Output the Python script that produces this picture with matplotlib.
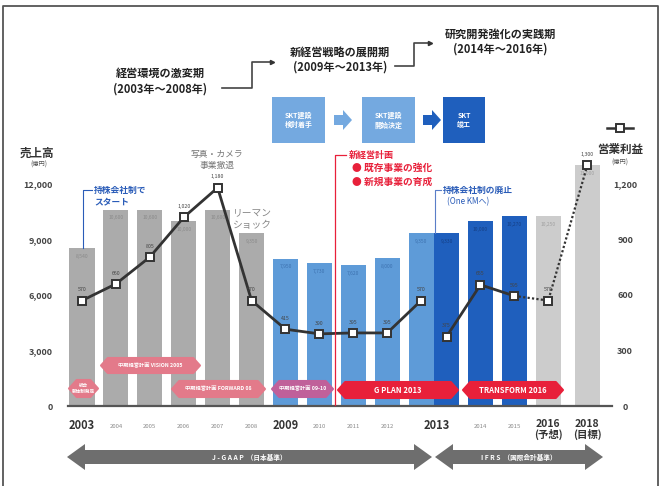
import matplotlib
matplotlib.use("Agg")
import matplotlib.pyplot as plt
from matplotlib.patches import Polygon, Rectangle
from matplotlib.lines import Line2D

plt.rcParams['font.family'] = ['Noto Sans CJK JP', 'DejaVu Sans']

# ---------------- data ----------------
years = ["2003", "2004", "2005", "2006", "2007", "2008", "2009", "2010",
         "2011", "2012", "2013", "2013", "2014", "2015", "2016", "2018"]
year_notes = ["", "", "", "", "", "", "", "", "", "", "", "", "", "", "(予想)", "(目標)"]
sales = [8540, 10600, 10600, 10000, 10600, 9350, 7950, 7730,
         7620, 8000, 9350, 9330, 10000, 10270, 10250, 13000]        # 売上高 (億円)
op = [570, 660, 805, 1020, 1180, 570, 415, 390,
      395, 395, 570, 375, 655, 595, 570, 1300]                      # 営業利益 (億円)
period = ["past"] * 6 + ["jgaap"] * 5 + ["ifrs"] * 3 + ["plan"] * 2
bold_years = ["2003", "2009", "2013", "2016", "2018"]
sales_ticks = [0, 3000, 6000, 9000, 12000]
op_ticks = [0, 300, 600, 900, 1200]

# ---------------- layout / style ----------------
W, H = 662, 486
xpos = list(range(11)) + [10.75, 11.75, 12.75, 13.75, 14.9]
period_color = {"past": "#ababab", "jgaap": "#5e9bd8", "ifrs": "#1f5fbd", "plan": "#cccccc"}
label_color = {"past": "#8a8a8a", "jgaap": "#3d72b0", "ifrs": "#153f85", "plan": "#a0a0a0"}
RED = "#e8203a"
BLUE = "#2a5cb8"
DARK = "#333333"

fig = plt.figure(figsize=(W / 100, H / 100), dpi=100)
fig.patch.set_facecolor("white")

ax_l, ax_r, ax_b, ax_t = 68, 612, 406, 140
ax = fig.add_axes([ax_l / W, (H - ax_b) / H, (ax_r - ax_l) / W, (ax_b - ax_t) / H])
px_per_k = 18.5
ymax = (ax_b - ax_t) / px_per_k * 1000
ax.set_xlim(-0.413, 15.63)
ax.set_ylim(0, ymax)
for s in ["top", "left", "right"]:
    ax.spines[s].set_visible(False)
ax.spines["bottom"].set_color("#555555")
ax.spines["bottom"].set_linewidth(1.6)
ax.set_xticks([])
ax.set_yticks(sales_ticks)
ax.set_yticklabels([f"{v:,}" for v in sales_ticks], fontsize=6.5, fontweight="bold", color="#444444")
ax.tick_params(axis="y", length=0, pad=11)
ax.patch.set_visible(False)

colors = [period_color[p] for p in period]
ax.bar(xpos, sales, width=0.74, color=colors, zorder=2)
for x, v, p in zip(xpos, sales, period):
    ax.annotate(f"{v:,}", (x, v), xytext=(0, -4), textcoords="offset points",
                ha="center", va="top", fontsize=3.6, color=label_color[p], zorder=3)

# x labels
for i, (x, y, note) in enumerate(zip(xpos, years, year_notes)):
    if i == 10:
        continue
    if i == 11:
        x = 10.45
    if y in bold_years:
        txt = y if not note else f"{y}\n{note}"
        ax.annotate(txt, (x, 0), xytext=(0, -9), textcoords="offset points", ha="center",
                    va="top", fontsize=8 if not note else 7.5, fontweight="bold",
                    color="#333333", linespacing=1.0, annotation_clip=False)
    else:
        ax.annotate(y, (x, 0), xytext=(0, -13), textcoords="offset points", ha="center",
                    va="top", fontsize=4.3, color="#8a8a8a", annotation_clip=False)

# operating profit line on twin axis
ax2 = ax.twinx()
ax2.set_ylim(0, ymax / 10)
ax2.set_xlim(ax.get_xlim())
for s in ["top", "left", "right", "bottom"]:
    ax2.spines[s].set_visible(False)
ax2.set_yticks(op_ticks)
ax2.set_yticklabels([f"{v:,}" for v in op_ticks], fontsize=6.5, fontweight="bold", color="#444444")
ax2.tick_params(axis="y", length=0, pad=9.5)
for lab in ax2.get_yticklabels():
    lab.set_horizontalalignment("center")

ax2.plot(xpos[0:11], op[0:11], color=DARK, lw=2.0, zorder=4)
ax2.plot(xpos[11:14], op[11:14], color=DARK, lw=2.0, zorder=4)
ax2.plot(xpos[13:16], op[13:16], color=DARK, lw=1.6, ls=(0, (1, 1)), zorder=4)
ax2.plot(xpos, op, ls="none", marker="s", ms=6.2, mfc="white", mec=DARK, mew=1.4, zorder=5)
for x, v in zip(xpos, op):
    ax2.annotate(f"{v:,}", (x, v), xytext=(0, 6), textcoords="offset points",
                 ha="center", va="bottom", fontsize=3.8, color="#444444", zorder=6)

# ---------------- overlay (pixel coordinates) ----------------
ov = fig.add_axes([0, 0, 1, 1])
ov.set_xlim(0, W)
ov.set_ylim(H, 0)
ov.axis("off")

# frame
ov.plot([3, 3, 658, 658], [490, 6, 6, 490], color="#555555", lw=1.3)

# axis titles
ov.text(37, 153, "売上高", ha="center", va="center", fontsize=8.3, fontweight="bold", color="#333")
ov.text(39, 165, "(億円)", ha="center", va="center", fontsize=4.5, color="#555")
ov.text(620, 149, "営業利益", ha="center", va="center", fontsize=8.3, fontweight="bold", color="#333")
ov.text(620, 163, "(億円)", ha="center", va="center", fontsize=4.5, color="#555")
ov.add_line(Line2D([607, 633], [128, 128], color=DARK, lw=1.8))
ov.plot([620], [128], marker="s", ms=6.2, mfc="white", mec=DARK, mew=1.4)

# period headings
HF = 8
ov.text(160, 73, "経営環境の激変期", ha="center", va="center", fontsize=HF, fontweight="bold", color="#222")
ov.text(160, 89, "(2003年〜2008年)", ha="center", va="center", fontsize=HF, fontweight="bold", color="#222")
ov.text(340, 52, "新経営戦略の展開期", ha="center", va="center", fontsize=HF, fontweight="bold", color="#222")
ov.text(340, 67, "(2009年〜2013年)", ha="center", va="center", fontsize=HF, fontweight="bold", color="#222")
ov.text(500, 34, "研究開発強化の実践期", ha="center", va="center", fontsize=HF, fontweight="bold", color="#222")
ov.text(500, 49, "(2014年〜2016年)", ha="center", va="center", fontsize=HF, fontweight="bold", color="#222")
ov.plot([222, 252, 252, 270], [88, 88, 62, 62], color="#444", lw=1.2)
ov.plot([272], [62], marker=">", ms=3, color="#333")
ov.plot([395, 414, 414, 428], [66, 66, 43, 43], color="#444", lw=1.2)
ov.plot([430], [43], marker=">", ms=3, color="#333")

# SKT boxes
boxes = [(272, 325, "#74a9e0", "SKT建設\n検討着手"), (362, 415, "#74a9e0", "SKT建設\n開始決定"),
         (443, 485, "#1f5fbd", "SKT\n竣工")]
for x0, x1, c, t in boxes:
    ov.add_patch(Rectangle((x0, 97), x1 - x0, 46, color=c, lw=0))
    ov.text((x0 + x1) / 2, 120, t, ha="center", va="center", fontsize=5, color="white",
            fontweight="bold", linespacing=1.4)
for x0, c in [(334, "#74a9e0"), (423, "#1f5fbd")]:
    ov.add_patch(Polygon([(x0, 115), (x0 + 9, 115), (x0 + 9, 110), (x0 + 18, 120),
                          (x0 + 9, 130), (x0 + 9, 125), (x0, 125)], closed=True, color=c, lw=0))

# annotations
ov.text(217, 154, "写真・カメラ", ha="center", va="center", fontsize=6.3, color="#777")
ov.text(217, 165, "事業撤退", ha="center", va="center", fontsize=6.3, color="#777")
ov.text(233, 212, "リーマン", ha="left", va="center", fontsize=7, color="#888")
ov.text(233, 225, "ショック", ha="left", va="center", fontsize=7, color="#888")

ov.plot([92, 83, 83], [190, 190, 248], color=BLUE, lw=0.8)
ov.text(94, 190, "持株会社制で", ha="left", va="center", fontsize=6.3, fontweight="bold", color=BLUE)
ov.text(94, 202, "スタート", ha="left", va="center", fontsize=6.3, fontweight="bold", color=BLUE)

ov.plot([346, 335, 335], [155, 155, 405], color=RED, lw=0.9)
ov.text(349, 155, "新経営計画", ha="left", va="center", fontsize=6.5, fontweight="bold", color=RED)
ov.text(352, 168, "● 既存事業の強化", ha="left", va="center", fontsize=7, fontweight="bold", color=RED)
ov.text(352, 182, "● 新規事業の育成", ha="left", va="center", fontsize=7, fontweight="bold", color=RED)

ov.plot([441, 435, 435], [190, 190, 233], color="#5a7ec8", lw=0.8)
ov.text(443, 190, "持株会社制の廃止", ha="left", va="center", fontsize=6.3, fontweight="bold", color=BLUE)
ov.text(447, 202, "(One KMへ)", ha="left", va="center", fontsize=5.8, color=BLUE)


def pill(x0, x1, y0, y1, color, text, fs=4.5, alpha=1.0):
    d = (y1 - y0) * 0.45
    yc = (y0 + y1) / 2
    ov.add_patch(Polygon([(x0, yc), (x0 + d, y0), (x1 - d, y0), (x1, yc), (x1 - d, y1), (x0 + d, y1)],
                         closed=True, facecolor=color, edgecolor=color, lw=1.5,
                         joinstyle="round", alpha=alpha, zorder=6))
    ov.text((x0 + x1) / 2, yc, text, ha="center", va="center", fontsize=fs, color="white",
            fontweight="bold", zorder=7, linespacing=1.2)


PINK = "#e37a8a"
pill(69, 98, 380, 397, PINK, "統合\n新体制発足", fs=3.3)
pill(101, 200, 358, 373, PINK, "中期経営計画 VISION 2005", fs=3.8)
pill(172, 265, 381, 397, PINK, "中期経営計画 FORWARD 08", fs=3.8)
pill(272, 333, 381, 397, "#c0609a", "中期経営計画 09-10", fs=3.8)
pill(338, 458, 382, 398, RED, "G PLAN 2013", fs=5.5)
pill(463, 563, 382, 398, RED, "TRANSFORM 2016", fs=5.5)

# accounting standard arrows


def darrow(x0, x1, color, text):
    hl, yc = 18, 457
    pts = [(x0, yc), (x0 + hl, yc - 13), (x0 + hl, yc - 7), (x1 - hl, yc - 7), (x1 - hl, yc - 13),
           (x1, yc), (x1 - hl, yc + 13), (x1 - hl, yc + 7), (x0 + hl, yc + 7), (x0 + hl, yc + 13)]
    ov.add_patch(Polygon(pts, closed=True, color=color, lw=0))
    ov.text((x0 + x1) / 2, yc, text, ha="center", va="center", fontsize=4.8, color="white",
            fontweight="bold")


darrow(67, 432, "#6e6e6e", "J - G A A P  （日本基準）")
darrow(435, 603, "#6e6e6e", "I F R S  （国際会計基準）")

fig.savefig("out.png", dpi=100, facecolor="white")
